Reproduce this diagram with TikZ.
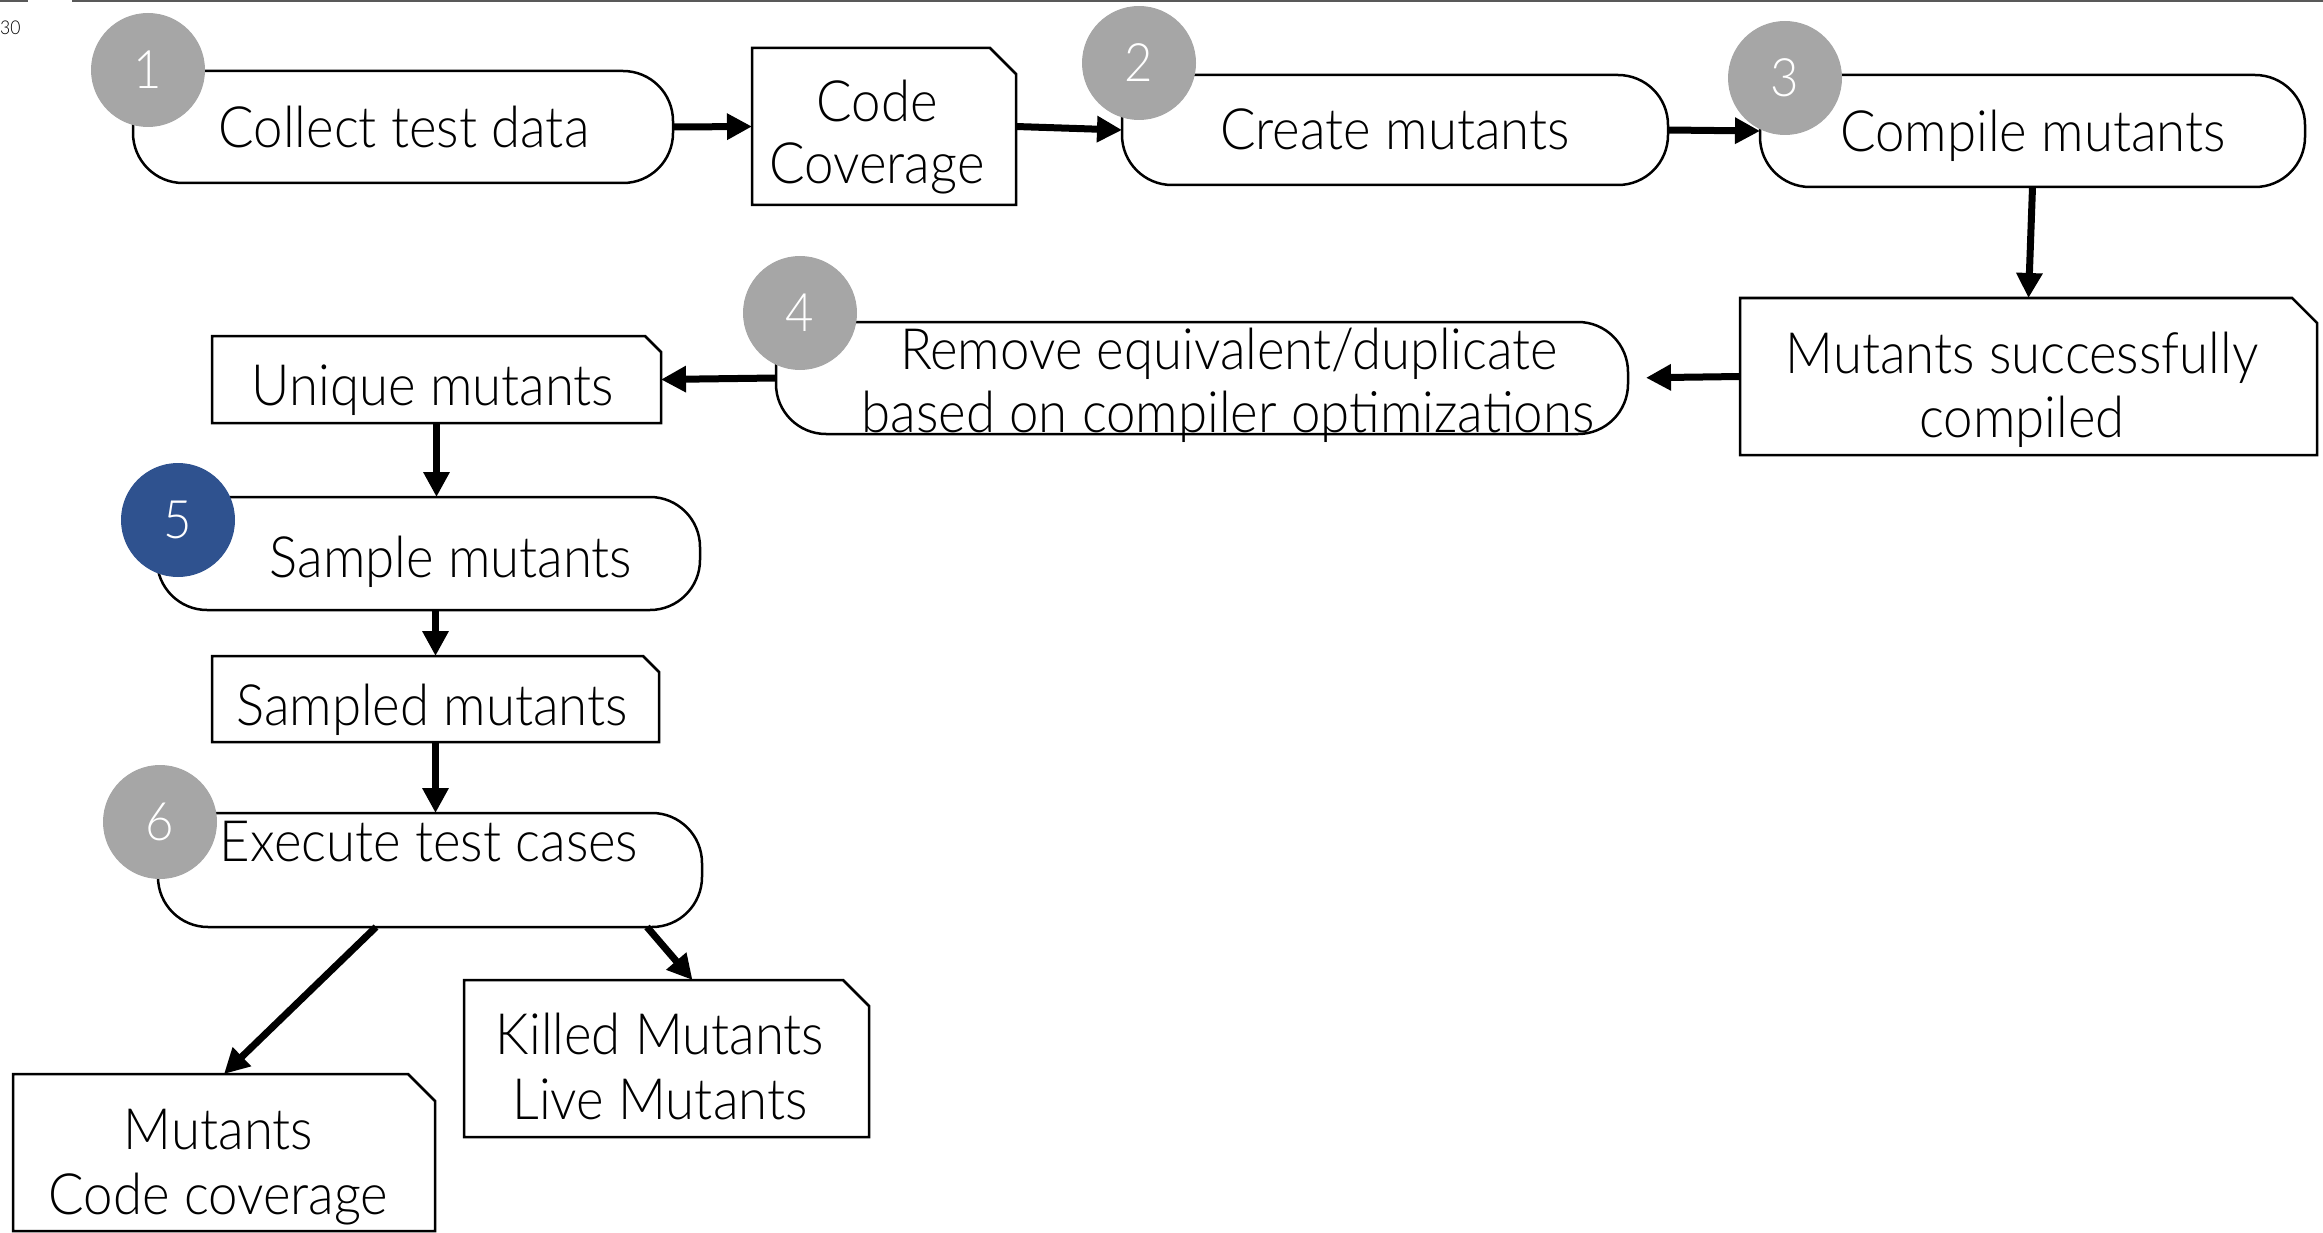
\documentclass[tikz,border=0pt]{standalone}
\usepackage{fontspec}
\setmainfont{Lato Light}[FakeStretch=0.925]
\usetikzlibrary{arrows.meta,calc}
\definecolor{stepgrey}{RGB}{166,166,166}
\definecolor{stepblue}{RGB}{47,82,143}
\definecolor{rulegrey}{RGB}{89,89,89}
\tikzset{
  boxnode/.style={inner sep=0pt, outer sep=0pt, draw=none},
  txt/.style={inner sep=0pt, anchor=base, font=\fontsize{57}{64}\selectfont},
  numcirc/.style={circle, fill=stepgrey, minimum size=114pt, inner sep=0pt, text=white, font=\fontsize{53}{60}\selectfont},
  outline/.style={line width=2.5pt, draw=black},
  flow/.style={line width=7pt, -{Triangle[length=25pt,width=25pt]}},
}
\newcommand{\termshape}[1]{\draw[outline, rounded corners=50pt] (#1.north west) -- (#1.north east) -- (#1.south east) -- (#1.south west) -- (#1.north west);}
\newcommand{\docshape}[2]{\draw[outline] (#1.north west) -- ([xshift=-#2pt]#1.north east) -- ([yshift=-#2pt]#1.north east) -- (#1.south east) -- (#1.south west) -- cycle;}
\begin{document}
\begin{tikzpicture}[x=1pt,y=-1pt]
\useasboundingbox (0,0) rectangle (2323,1233);
% top rule and page number
\coordinate (r1a) at (0,1); \coordinate (r1b) at (28,1);
\coordinate (r2a) at (72,1); \coordinate (r2b) at (2323,1);
\draw[rulegrey, line width=2.5pt] (r1a) -- (r1b);
\draw[rulegrey, line width=2.5pt] (r2a) -- (r2b);
\node[inner sep=0pt, anchor=base west, font=\fontsize{19}{20}\selectfont] (pnum) at (0,35) {30};
% boxes
\node[boxnode, minimum width=540pt, minimum height=112pt] (collect) at (403,127) {};
\node[boxnode, minimum width=264pt, minimum height=157pt] (code) at (884,126.5) {};
\node[boxnode, minimum width=546pt, minimum height=110pt] (create) at (1395,130) {};
\node[boxnode, minimum width=545pt, minimum height=112pt] (compile) at (2032.5,131) {};
\node[boxnode, minimum width=577pt, minimum height=157pt] (msc) at (2028.5,376.5) {};
\node[boxnode, minimum width=852pt, minimum height=112pt] (remove) at (1202,378) {};
\node[boxnode, minimum width=449pt, minimum height=87pt] (unique) at (436.5,379.5) {};
\node[boxnode, minimum width=543pt, minimum height=113pt] (sample) at (428.5,553.5) {};
\node[boxnode, minimum width=447pt, minimum height=86pt] (sampled) at (435.5,699) {};
\node[boxnode, minimum width=544pt, minimum height=114pt] (execute) at (430,870) {};
\node[boxnode, minimum width=405pt, minimum height=157pt] (killed) at (666.5,1058.5) {};
\node[boxnode, minimum width=422pt, minimum height=157pt] (mutcov) at (224,1152.5) {};
\termshape{collect}
\termshape{create}
\termshape{compile}
\termshape{remove}
\termshape{sample}
\termshape{execute}
\docshape{code}{26}
\docshape{msc}{25}
\docshape{unique}{16}
\docshape{sampled}{16}
\docshape{killed}{26}
\docshape{mutcov}{27}
% texts
\node[txt] (tcollect) at (404,148) {Collect test data};
\node[txt] (tcode1) at (877,122) {Code};
\node[txt] (tcode2) at (877,184) {Coverage};
\node[txt] (tcreate) at (1395,150) {Create mutants};
\node[txt] (tcompile) at (2033,152) {Compile mutants};
\node[txt] (tmsc1) at (2022,373) {Mutants successfully};
\node[txt] (tmsc2) at (2022,437) {compiled};
\node[txt] (tremove1) at (1229,369) {Remove equivalent/duplicate};
\node[txt] (tremove2) at (1228,432) {based on compiler optimizations};
\node[txt] (tunique) at (433,405) {Unique mutants};
\node[txt] (tsample) at (451,577) {Sample mutants};
\node[txt] (tsampled) at (432,725) {Sampled mutants};
\node[txt] (texecute) at (429,861) {Execute test cases};
\node[txt] (tkilled) at (660,1054) {Killed Mutants};
\node[txt] (tlive) at (660,1119) {Live Mutants};
\node[txt] (tmut) at (218.5,1149) {Mutants};
\node[txt] (tcov) at (218.5,1214) {Code coverage};
% connectors
\draw[flow] (collect.east) -- (code.west);
\draw[flow] (code.east) -- (create.west);
\draw[flow] (create.east) -- (compile.west);
\draw[flow] (compile.south) -- (msc.north);
\draw[flow, shorten >=18pt] (msc.west) -- (remove.east);
\draw[flow] (remove.west) -- (unique.east);
\draw[flow] (unique.south) -- (unique.south |- sample.north);
\draw[flow] (sampled.north |- sample.south) -- (sampled.north);
\draw[flow] (sampled.south) -- (sampled.south |- execute.north);
\draw[flow] ([xshift=-54pt]execute.south) -- (mutcov.north);
\draw[flow] ([xshift=217pt]execute.south) -- ([xshift=26pt]killed.north);
% step circles
\node[numcirc] (c1) at (148,70) {1};
\node[numcirc] (c2) at (1139,63) {2};
\node[numcirc] (c3) at (1785,78) {3};
\node[numcirc] (c4) at (800,313) {4};
\node[numcirc, fill=stepblue] (c5) at (178,520) {5};
\node[numcirc] (c6) at (160,822) {6};
\end{tikzpicture}
\end{document}
